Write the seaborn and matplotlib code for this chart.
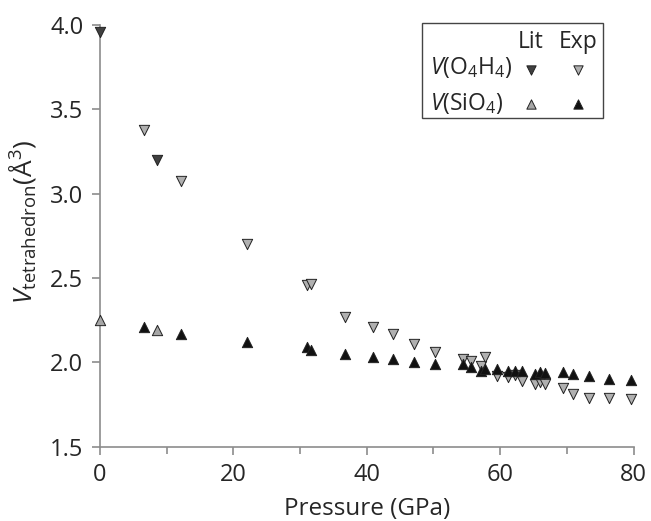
import numpy as np
import pandas as pd
import matplotlib
matplotlib.use("Agg")
import matplotlib.pyplot as plt
import seaborn as sns
from matplotlib.patches import Rectangle

# ---- data ----
lit_o4h4_p = [0.0, 8.6]
lit_o4h4_v = [3.96, 3.20]

exp_o4h4_p = [6.6, 12.2, 22.1, 31.0, 31.7, 36.7, 41.0, 43.9, 47.1, 50.3,
              54.5, 55.6, 57.1, 57.7, 59.5, 61.2, 62.2, 63.3, 65.2, 66.0,
              66.7, 69.5, 71.0, 73.4, 76.4, 79.7]
exp_o4h4_v = [3.38, 3.075, 2.70, 2.46, 2.465, 2.27, 2.21, 2.17, 2.11, 2.06,
              2.02, 2.01, 1.98, 2.03, 1.92, 1.91, 1.925, 1.89, 1.87, 1.88,
              1.87, 1.845, 1.81, 1.79, 1.79, 1.78]

lit_sio4_p = [0.0, 8.6]
lit_sio4_v = [2.25, 2.19]

exp_sio4_p = [6.6, 12.2, 22.1, 31.0, 31.7, 36.7, 41.0, 43.9, 47.1, 50.3,
              54.5, 55.6, 57.1, 57.7, 59.5, 61.2, 62.2, 63.3, 65.2, 66.0,
              66.7, 69.5, 71.0, 73.4, 76.4, 79.7]
exp_sio4_v = [2.21, 2.17, 2.12, 2.093, 2.073, 2.05, 2.03, 2.02, 2.00, 1.99,
              1.99, 1.97, 1.95, 1.96, 1.96, 1.95, 1.95, 1.95, 1.93, 1.94,
              1.935, 1.94, 1.93, 1.92, 1.90, 1.895]

x_ticks = [0, 20, 40, 60, 80]
y_ticks = [1.5, 2.0, 2.5, 3.0, 3.5, 4.0]

sns.set_theme(style="white")
plt.rcParams['font.family'] = ['Open Sans', 'DejaVu Sans']
plt.rcParams['mathtext.fontset'] = 'custom'
plt.rcParams['mathtext.rm'] = 'Open Sans'
plt.rcParams['mathtext.it'] = 'Open Sans:italic'
plt.rcParams['mathtext.bf'] = 'Open Sans:bold'

fig = plt.figure(figsize=(6.51, 5.21), dpi=100)
ax = fig.add_axes([100/651, 1-446.5/521, (633.5-100)/651, (446.5-25)/521])

series = [
    (exp_o4h4_p, exp_o4h4_v, 'v', '#b0b0b0'),
    (lit_o4h4_p, lit_o4h4_v, 'v', '#404040'),
    (lit_sio4_p, lit_sio4_v, '^', '#a6a6a6'),
    (exp_sio4_p, exp_sio4_v, '^', '#111111'),
]
for p, v, m, c in series:
    df = pd.DataFrame({'p': p, 'v': v})
    sns.scatterplot(data=df, x='p', y='v', ax=ax, marker=m, color=c,
                    edgecolor='#222222', linewidth=0.7, s=55, clip_on=False,
                    zorder=3, legend=False)

ax.set_xlim(0, 80)
ax.set_ylim(1.5, 4.0)
ax.set_xticks(x_ticks)
ax.set_xticks([10, 30, 50, 70], minor=True)
ax.set_yticks(y_ticks)
ax.set_yticklabels([f"{t:.1f}" for t in y_ticks])
ax.set_xticklabels([str(t) for t in x_ticks])

spine_c = '#8c8c8c'
tc = '#262626'
for s in ['top', 'right']:
    ax.spines[s].set_visible(False)
for s in ['left', 'bottom']:
    ax.spines[s].set_color(spine_c)
    ax.spines[s].set_linewidth(1.2)
ax.tick_params(axis='both', which='both', direction='out', color=spine_c,
               width=1.2, labelsize=17, labelcolor=tc)
ax.tick_params(axis='both', which='major', length=6, pad=6)
ax.tick_params(axis='x', which='minor', length=5)
ax.tick_params(left=True, bottom=True, which='both')

ax.set_xlabel('Pressure (GPa)', fontsize=17.5, color=tc)
ax.xaxis.set_label_coords(0.5, (446.5 - 497) / 421.5)
ax.set_ylabel(r'$V_{\mathrm{tetrahedron}}$(Å$^{3}$)', fontsize=19,
              color=tc)
ax.yaxis.set_label_coords((38 - 100) / 533.5, (446.5 - 222) / 421.5)

# ---- custom legend ----
def fx(px):
    return (px - 100) / (633.5 - 100)

def fy(py):
    return (446.5 - py) / (446.5 - 25)

ax.add_patch(Rectangle((fx(422), fy(118)), fx(603) - fx(422), fy(23) - fy(118),
                       transform=ax.transAxes, facecolor='white',
                       edgecolor='#444444', linewidth=1.0, zorder=4,
                       clip_on=False))
ax.text(fx(531), fy(42), 'Lit', transform=ax.transAxes, ha='center',
        va='center', fontsize=16.5, color=tc, zorder=5)
ax.text(fx(578), fy(42), 'Exp', transform=ax.transAxes, ha='center',
        va='center', fontsize=16.5, color=tc, zorder=5)
ax.text(fx(430), fy(68), r'$V$(O$_4$H$_4$)', transform=ax.transAxes,
        ha='left', va='center', fontsize=16.5, color=tc, zorder=5)
ax.text(fx(430), fy(103), r'$V$(SiO$_4$)', transform=ax.transAxes,
        ha='left', va='center', fontsize=16.5, color=tc, zorder=5)
leg_marks = [(531, 70, 'v', '#404040'), (578, 70, 'v', '#b0b0b0'),
             (531, 104, '^', '#a6a6a6'), (578, 104, '^', '#111111')]
for px, py, m, c in leg_marks:
    ax.scatter([fx(px)], [fy(py)], transform=ax.transAxes, marker=m, color=c,
               edgecolor='#222222', linewidth=0.7, s=45, zorder=6,
               clip_on=False)

fig.savefig('out.png', dpi=100)
